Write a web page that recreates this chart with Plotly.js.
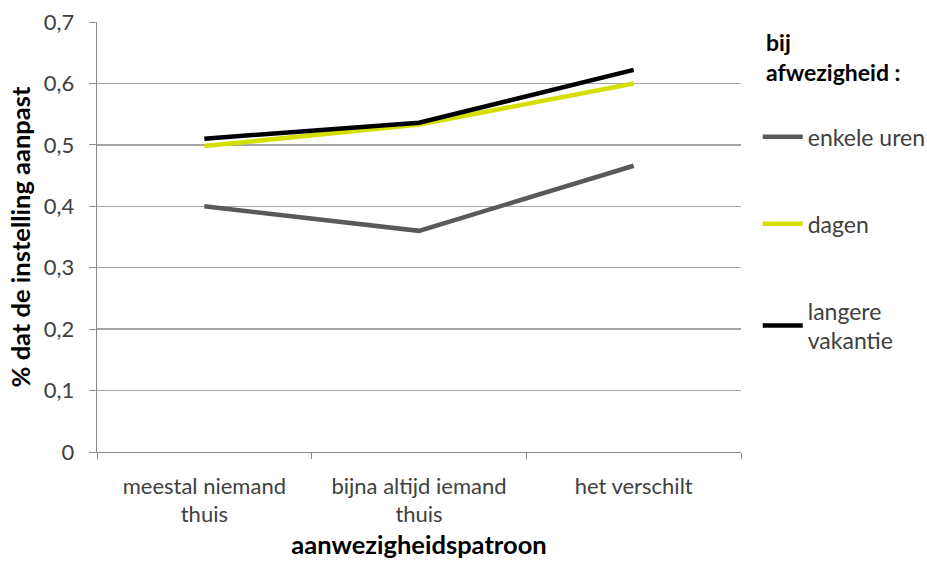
<!DOCTYPE html>
<html><head><meta charset="utf-8">
<script src="https://cdn.plot.ly/plotly-3.0.1.min.js"></script>
<style>html,body{margin:0;padding:0;background:#fff}</style>
</head><body>
<div id="chart" style="width:927px;height:561px"></div>
<script>
const categories = ["meestal niemand<br>thuis", "bijna altijd iemand<br>thuis", "het verschilt"];
const enkeleUren = [0.400, 0.360, 0.466];
const dagen = [0.498, 0.533, 0.600];
const langereVakantie = [0.510, 0.536, 0.622];
const seriesNames = ["enkele uren", "dagen", "langere<br>vakantie"];
const yTickVals = [0, 0.1, 0.2, 0.3, 0.4, 0.5, 0.6, 0.7];
const yTickText = ["0", "0,1", "0,2", "0,3", "0,4", "0,5", "0,6", "0,7"];
const legendTitle = "<b>bij<br>afwezigheid :</b>";

const font = "Lato, 'Open Sans', sans-serif";
const colors = ["#595959", "#d4df00", "#000000"];
const vals = [enkeleUren, dagen, langereVakantie];
const traces = vals.map((v, i) => ({
  type: "scatter", mode: "lines", x: categories, y: v, name: seriesNames[i],
  legendgroup: "g" + i,
  line: {color: colors[i], width: 4.5}
}));

const layout = {
  width: 927, height: 561,
  margin: {l: 97, r: 186, t: 22, b: 109, autoexpand: false},
  paper_bgcolor: "#fff", plot_bgcolor: "#fff",
  font: {family: font, size: 22, color: "#404040"},
  showlegend: true,
  legend: {
    x: 1.026, xanchor: "left", y: 0.783, yanchor: "top",
    font: {family: font, size: 23, color: "#404040"},
    tracegroupgap: 54, traceorder: "grouped", itemwidth: 40
  },
  annotations: [{
    text: legendTitle, xref: "paper", yref: "paper", x: 1.035, y: 0.99,
    xanchor: "left", yanchor: "top", showarrow: false, align: "left",
    font: {family: font, size: 23, color: "#000"}
  }],
  xaxis: {
    type: "category", tickson: "boundaries", ticks: "outside", ticklen: 6, tickcolor: "#888",
    showline: true, linecolor: "#888", linewidth: 1.3, showgrid: false,
    ticklabelstandoff: 14,
    tickfont: {family: font, size: 22, color: "#404040"},
    title: {text: "<b>aanwezigheidspatroon</b>", font: {family: font, size: 25.5, color: "#000"}, standoff: 10},
    range: [-0.5, 2.5]
  },
  yaxis: {
    range: [0, 0.7], tickvals: yTickVals, ticktext: yTickText,
    ticks: "outside", ticklen: 7, tickcolor: "#888",
    showline: true, linecolor: "#888", linewidth: 1.3,
    showgrid: true, gridcolor: "#a6a6a6", gridwidth: 1.3, zeroline: false,
    ticklabelstandoff: 10,
    tickfont: {family: font, size: 22, color: "#404040"},
    title: {text: "<b>% dat de instelling aanpast</b>", font: {family: font, size: 25.5, color: "#000"}, standoff: 6}
  }
};
Plotly.newPlot("chart", traces, layout, {displayModeBar: false, staticPlot: true});
</script>
</body></html>
